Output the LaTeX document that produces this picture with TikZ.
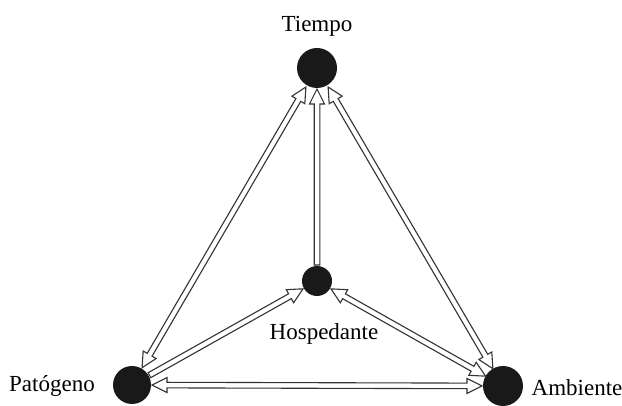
\documentclass[tikz,border=0pt]{standalone}
\usepackage{fontspec}
\setmainfont{Liberation Serif}
\usetikzlibrary{calc}
\tikzset{
  dot/.style={circle,fill=black!90,draw=none,inner sep=0pt},
  lbl/.style={font=\fontsize{23}{26}\selectfont,text=black,inner sep=0pt},
  arr/.style={draw=black!80,line width=1.1pt,fill=white,line join=miter},
}
% \harrow{A}{B}{offA}{offB}{headA}{headB}
\newcommand{\harrow}[6]{%
  \coordinate (hs) at ($(#1)!#3!(#2)$);
  \coordinate (he) at ($(#2)!#4!(#1)$);
  \draw[arr] let \p1=(hs), \p2=(he),
      \n1={atan2(\y2-\y1,\x2-\x1)}, \n2={veclen(\x2-\x1,\y2-\y1)} in
    \ifnum#5=1
      (hs) -- ($(hs)+(\n1:15pt)+(\n1+90:7.5pt)$) -- ($(hs)+(\n1:15pt)+(\n1+90:2.8pt)$)
    \else
      ($(hs)+(\n1+90:2.8pt)$)
    \fi
    \ifnum#6=1
      -- ($(hs)+(\n1:\n2-15pt)+(\n1+90:2.8pt)$) -- ($(hs)+(\n1:\n2-15pt)+(\n1+90:7.5pt)$)
      -- (he)
      -- ($(hs)+(\n1:\n2-15pt)+(\n1-90:7.5pt)$) -- ($(hs)+(\n1:\n2-15pt)+(\n1-90:2.8pt)$)
    \else
      -- ($(he)+(\n1+90:2.8pt)$) -- ($(he)+(\n1-90:2.8pt)$)
    \fi
    \ifnum#5=1
      -- ($(hs)+(\n1:15pt)+(\n1-90:2.8pt)$) -- ($(hs)+(\n1:15pt)+(\n1-90:7.5pt)$) -- cycle;
    \else
      -- ($(hs)+(\n1-90:2.8pt)$) -- cycle;
    \fi
}
\begin{document}
\begin{tikzpicture}[x=1pt,y=-1pt]
\useasboundingbox[fill=white] (0,0) rectangle (622,406);
\node[dot,minimum size=40pt] (T) at (317,68) {};
\node[dot,minimum size=30pt] (H) at (317,281) {};
\node[dot,minimum size=38pt] (P) at (132,385) {};
\node[dot,minimum size=40pt] (A) at (503,386) {};
\node[lbl] (lT) at (317,26) {Tiempo};
\node[lbl] (lH) at (324,334) {Hospedante};
\node[lbl] (lP) at (52,386) {Patógeno};
\node[lbl] (lA) at (577,388) {Ambiente};
\harrow{T}{P}{22pt}{20pt}{1}{1}
\harrow{H}{T}{16pt}{21pt}{0}{1}
\harrow{T}{A}{22pt}{20pt}{1}{1}
\harrow{P}{H}{20pt}{16pt}{0}{1}
\harrow{H}{A}{16pt}{20pt}{1}{1}
\harrow{P}{A}{20pt}{21pt}{1}{1}
\end{tikzpicture}
\end{document}
